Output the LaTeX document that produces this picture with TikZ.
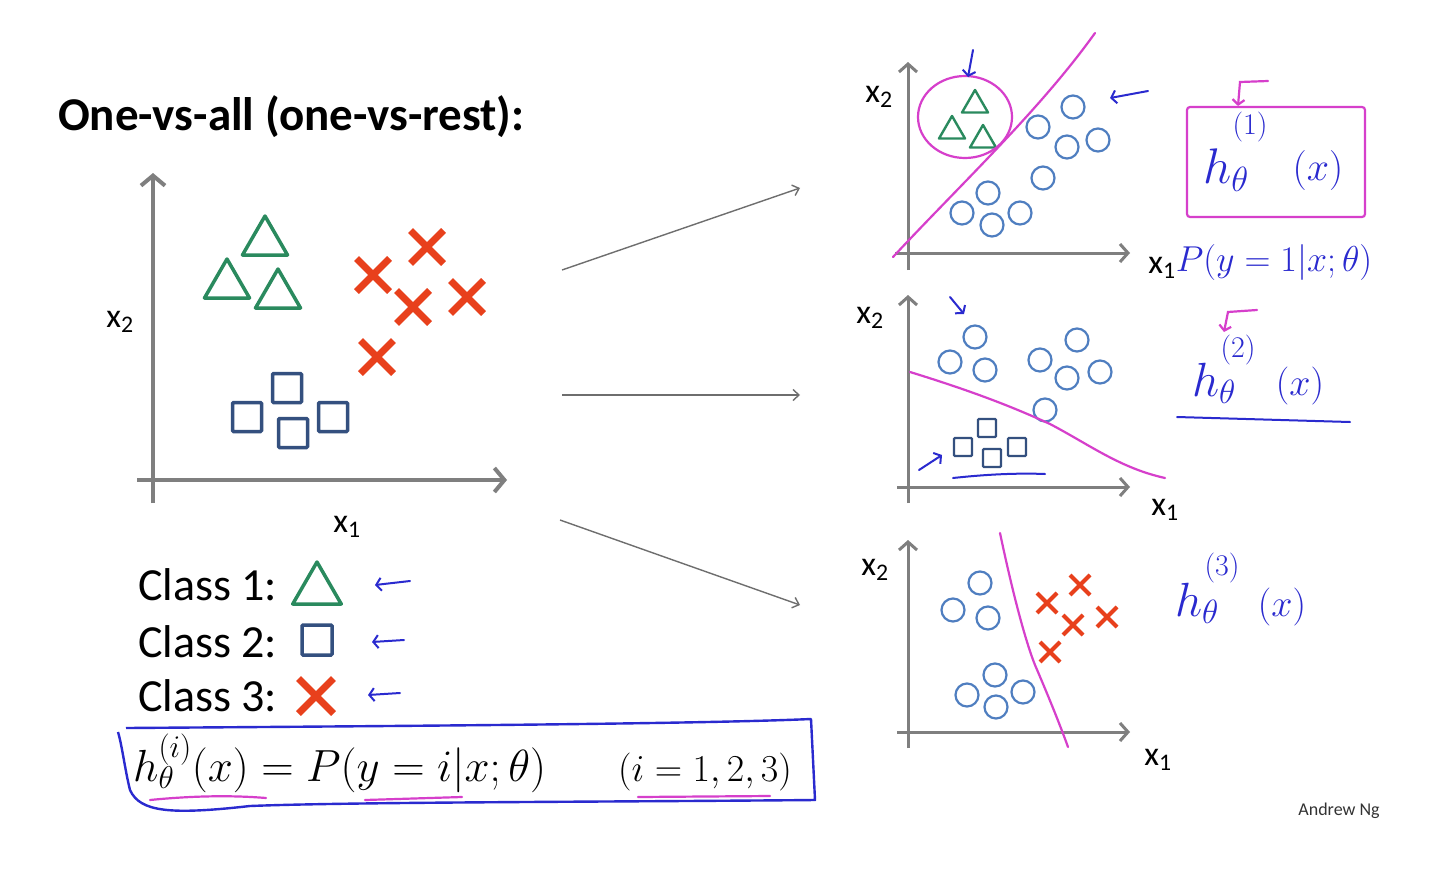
\documentclass[tikz,border=0pt]{standalone}
\usepackage{fix-cm}
\usepackage{fontspec}
\setsansfont{Carlito}
\usepackage{xcolor}
\definecolor{axisc}{HTML}{7F7F7F}
\definecolor{linkc}{HTML}{6E6E6E}
\definecolor{trig}{HTML}{2A8A5E}
\definecolor{sqc}{HTML}{34507F}
\definecolor{crossc}{HTML}{E8401C}
\definecolor{circc}{HTML}{4F7EC0}
\definecolor{magc}{HTML}{D63FCB}
\definecolor{handc}{HTML}{2A2ACF}
\usepackage{tikz}
\usetikzlibrary{arrows.meta,positioning,shapes.geometric,shapes.misc,calc}

\begin{document}
\begin{tikzpicture}[x=1pt,y=-1pt,every node/.style={font=\sffamily,inner sep=0pt}]
\tikzstyle{axis}=[draw=axisc,line width=4pt,-{Straight Barb[length=10pt,width=24pt]}]
\tikzstyle{saxis}=[draw=axisc,line width=3pt,-{Straight Barb[length=8pt,width=18pt]}]
\tikzstyle{link}=[draw=linkc,line width=1.4pt,-{Straight Barb[length=6pt,width=11pt]}]
\tikzstyle{tri}=[regular polygon,regular polygon sides=3,draw=trig,line width=3.5pt,minimum size=52pt,line join=round]
\tikzstyle{sq}=[rectangle,draw=sqc,line width=3.5pt,minimum size=29pt,rounded corners=1pt]
\tikzstyle{crs}=[cross out,draw=crossc,line width=7pt,minimum size=26pt]
\tikzstyle{stri}=[tri,line width=2.4pt,minimum size=30pt]
\tikzstyle{ssq}=[sq,line width=2.4pt,minimum size=18pt]
\tikzstyle{scrs}=[crs,line width=4pt,minimum size=16pt]
\tikzstyle{ptc}=[circle,draw=circc,line width=2.2pt,minimum size=23pt]
\tikzstyle{lab}=[font=\sffamily\fontsize{34}{38}\selectfont]
\tikzstyle{mag}=[draw=magc,line width=2.2pt,line cap=round]
\tikzstyle{hnd}=[draw=handc,line width=2pt,line cap=round,-{Straight Barb[length=5pt,width=13pt]}]
\tikzstyle{htx}=[text=handc]
\useasboundingbox (0,0) rectangle (1445,881);
\fill[white] (0,0) rectangle (1445,881);
% title
\node[anchor=base west,font=\sffamily\bfseries\fontsize{47}{52}\selectfont] (title) at (58,130) {One-vs-all (one-vs-rest):};
% left plot
\coordinate (lo1) at (137,480); \coordinate (le1) at (507,480);
\coordinate (lo2) at (153,503); \coordinate (le2) at (153,173);
\draw[axis] (lo1) -- (le1);
\draw[axis] (lo2) -- (le2);
\node[lab] (lx2) at (120,322) {x\textsubscript{2}};
\node[lab] (lx1) at (347,527) {x\textsubscript{1}};
\foreach \p [count=\i] in {(265,242),(227,285),(278,295)}
  \node[tri] (ta\i) at \p {};
\foreach \p [count=\i] in {(287,388),(247,417),(293,433),(333,417)}
  \node[sq] (sa\i) at \p {};
\foreach \p [count=\i] in {(427,247),(373,275),(413,307),(467,297),(377,357)}
  \node[crs] (ca\i) at \p {};
% legend
\node[anchor=base west,font=\sffamily\fontsize{46}{50}\selectfont] (c1) at (138,600) {Class 1:};
\node[anchor=base west,font=\sffamily\fontsize{46}{50}\selectfont] (c2) at (138,657) {Class 2:};
\node[anchor=base west,font=\sffamily\fontsize{46}{50}\selectfont] (c3) at (138,711) {Class 3:};
\node[tri,minimum size=56pt] (m1) at (317,590) {};
\node[sq,minimum size=30pt] (m2) at (317,640) {};
\node[crs,minimum size=28pt] (m3) at (316,696) {};
\coordinate (r1a) at (410,581); \coordinate (r1b) at (375,585);
\coordinate (r2a) at (404,640); \coordinate (r2b) at (372,642);
\coordinate (r3a) at (400,693); \coordinate (r3b) at (368,695);
\draw[hnd] (r1a) -- (r1b);
\draw[hnd] (r2a) -- (r2b);
\draw[hnd] (r3a) -- (r3b);
% formula
\draw[handc,line width=2.4pt,line join=round] (126,728) .. controls (400,726) and (700,724) .. (811,719) -- (815,800) .. controls (600,802) and (350,802) .. (250,806) .. controls (170,815) and (140,812) .. (130,790) .. controls (125,770) and (122,745) .. (118,732);
\node[anchor=base west,font=\fontsize{45}{48}\selectfont] (eq) at (133,781) {$h_\theta^{(i)}(x) = P(y = i|x;\theta)$};
\node[anchor=base east,font=\fontsize{38}{42}\selectfont] (rng) at (792,781) {$(i = 1,2,3)$};
\draw[mag] (150,800) .. controls (190,796) and (230,795) .. (266,798);
\draw[mag] (365,800) -- (462,797);
\draw[mag] (638,797) -- (770,796);
% links
\coordinate (k1s) at (562,270); \coordinate (k1e) at (800,188);
\coordinate (k2s) at (562,395); \coordinate (k2e) at (800,395);
\coordinate (k3s) at (560,520); \coordinate (k3e) at (800,605);
\draw[link] (k1s) -- (k1e);
\draw[link] (k2s) -- (k2e);
\draw[link] (k3s) -- (k3e);
% plot 1
\coordinate (ao1) at (895,253); \coordinate (ae1) at (1130,253);
\coordinate (ao2) at (908,270); \coordinate (ae2) at (908,62);
\draw[saxis] (ao1) -- (ae1);
\draw[saxis] (ao2) -- (ae2);
\node[lab] (ax2) at (879,97) {x\textsubscript{2}};
\node[lab] (ax1) at (1162,268) {x\textsubscript{1}};
\foreach \p [count=\i] in {(975,105),(952,131),(983,140)}
  \node[stri] (tb\i) at \p {};
\foreach \p [count=\i] in {(1038,127),(1073,107),(1067,147),(1098,140),(1043,178),(988,193),(962,213),(992,225),(1020,213)}
  \node[ptc] (pb\i) at \p {};
\draw[mag] (893,257) .. controls (960,185) and (1040,110) .. (1095,33);
\draw[mag] (965,117) ellipse [x radius=47,y radius=41];
\coordinate (u1a) at (973,50); \coordinate (u1b) at (968,77);
\draw[hnd] (u1a) -- (u1b);
\coordinate (u2a) at (1148,91); \coordinate (u2b) at (1110,98);
\draw[hnd] (u2a) -- (u2b);
\draw[mag,rounded corners=3pt] (1187,107) rectangle (1365,217);
\coordinate (v1a) at (1268,81); \coordinate (v1b) at (1240,82); \coordinate (v1c) at (1238,106);
\draw[mag,-{Straight Barb[length=5pt,width=12pt]}] (v1a) -- (v1b) -- (v1c);
\node[htx,font=\fontsize{30}{32}\selectfont] (s1) at (1250,127) {$(1)$};
\node[htx,font=\fontsize{50}{52}\selectfont] (h1) at (1226,170) {$h_\theta$};
\node[htx,font=\fontsize{40}{42}\selectfont] (x1) at (1318,170) {$(x)$};
\node[htx,font=\fontsize{36}{40}\selectfont] (p1) at (1274,262) {$P(y = 1|x;\theta)$};
% plot 2
\coordinate (bo1) at (897,487); \coordinate (be1) at (1130,487);
\coordinate (bo2) at (908,503); \coordinate (be2) at (908,295);
\draw[saxis] (bo1) -- (be1);
\draw[saxis] (bo2) -- (be2);
\node[lab] (bx2) at (870,318) {x\textsubscript{2}};
\node[lab] (bx1) at (1165,510) {x\textsubscript{1}};
\foreach \p [count=\i] in {(975,337),(950,362),(985,370),(1040,360),(1077,340),(1067,378),(1100,372),(1045,410)}
  \node[ptc] (pc\i) at \p {};
\foreach \p [count=\i] in {(987,428),(963,447),(992,458),(1017,447)}
  \node[ssq] (sc\i) at \p {};
\draw[mag] (910,372) .. controls (975,392) and (1015,408) .. (1050,424) .. controls (1090,445) and (1120,468) .. (1165,478);
\coordinate (w1a) at (950,297); \coordinate (w1b) at (964,314);
\draw[hnd] (w1a) -- (w1b);
\coordinate (w2a) at (919,470); \coordinate (w2b) at (942,455);
\draw[hnd] (w2a) -- (w2b);
\draw[handc,line width=2pt,line cap=round] (953,478) .. controls (990,474) and (1020,473) .. (1045,474);
\coordinate (v2a) at (1257,310); \coordinate (v2b) at (1228,312); \coordinate (v2c) at (1224,332);
\draw[mag,-{Straight Barb[length=5pt,width=12pt]}] (v2a) -- (v2b) -- (v2c);
\node[htx,font=\fontsize{30}{32}\selectfont] (s2) at (1238,350) {$(2)$};
\node[htx,font=\fontsize{48}{50}\selectfont] (h2) at (1214,383) {$h_\theta$};
\node[htx,font=\fontsize{38}{40}\selectfont] (x2) at (1300,386) {$(x)$};
\draw[handc,line width=2pt,line cap=round] (1177,417) -- (1350,422);
% plot 3
\coordinate (co1) at (897,732); \coordinate (ce1) at (1130,732);
\coordinate (co2) at (908,748); \coordinate (ce2) at (908,540);
\draw[saxis] (co1) -- (ce1);
\draw[saxis] (co2) -- (ce2);
\node[lab] (cx2) at (875,570) {x\textsubscript{2}};
\node[lab] (cx1) at (1158,760) {x\textsubscript{1}};
\foreach \p [count=\i] in {(980,583),(953,610),(988,618),(995,675),(967,695),(996,707),(1023,692)}
  \node[ptc] (pd\i) at \p {};
\foreach \p [count=\i] in {(1080,585),(1047,603),(1073,625),(1107,617),(1050,652)}
  \node[scrs] (cd\i) at \p {};
\draw[mag] (1000,533) .. controls (1012,590) and (1025,640) .. (1035,665) .. controls (1050,700) and (1060,725) .. (1068,747);
\node[htx,font=\fontsize{30}{32}\selectfont] (s3) at (1222,568) {$(3)$};
\node[htx,font=\fontsize{48}{50}\selectfont] (h3) at (1197,603) {$h_\theta$};
\node[htx,font=\fontsize{38}{40}\selectfont] (x3) at (1282,607) {$(x)$};
% credit
\node[font=\sffamily\fontsize{18}{20}\selectfont,text=black!80] (ng) at (1339,811) {Andrew Ng};
\end{tikzpicture}
\end{document}
